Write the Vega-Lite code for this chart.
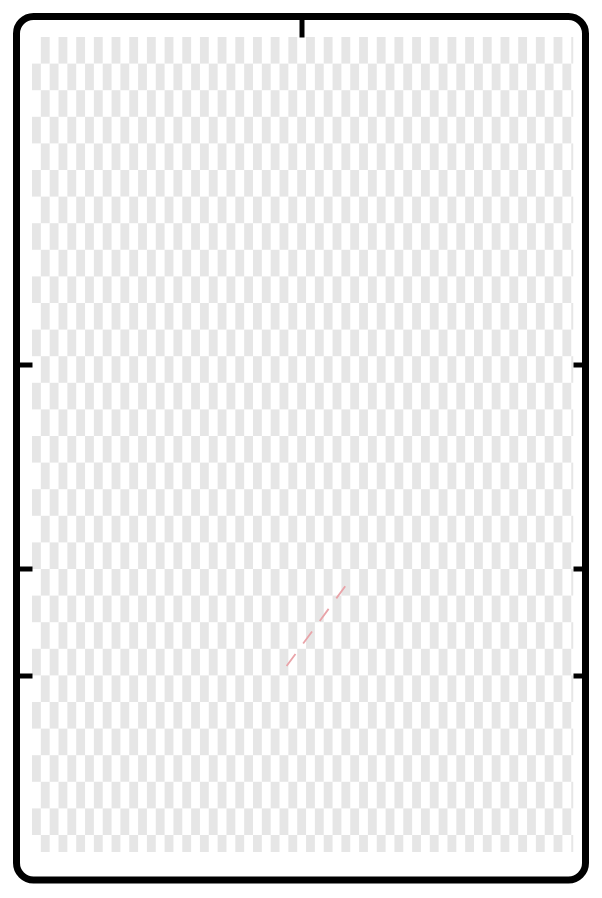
{
"$schema": "https://vega.github.io/schema/vega-lite/v6.json",
"width": 569,
"height": 863.5,
"autosize": {"type": "none"},
"padding": {"left": 16.5, "top": 16.5, "right": 16.5, "bottom": 18},
"background": "white",
"config": {"view": {"stroke": "#000000", "strokeWidth": 7, "cornerRadius": 17, "fill": "white"}},
"datasets": {
"cells": [
{"r":0,"c":1},{"r":0,"c":3},{"r":0,"c":5},{"r":0,"c":7},{"r":0,"c":9},{"r":0,"c":11},{"r":0,"c":13},{"r":0,"c":15},{"r":0,"c":17},{"r":0,"c":19},{"r":0,"c":21},{"r":0,"c":23},{"r":0,"c":25},{"r":0,"c":27},{"r":0,"c":29},{"r":0,"c":31},{"r":0,"c":33},{"r":0,"c":35},{"r":0,"c":37},{"r":0,"c":39},{"r":0,"c":41},{"r":0,"c":43},{"r":0,"c":45},{"r":0,"c":47},{"r":0,"c":49},{"r":0,"c":51},{"r":0,"c":53},{"r":0,"c":55},{"r":0,"c":57},{"r":0,"c":59},
{"r":1,"c":0},{"r":1,"c":2},{"r":1,"c":4},{"r":1,"c":6},{"r":1,"c":8},{"r":1,"c":10},{"r":1,"c":12},{"r":1,"c":14},{"r":1,"c":16},{"r":1,"c":18},{"r":1,"c":20},{"r":1,"c":22},{"r":1,"c":24},{"r":1,"c":26},{"r":1,"c":28},{"r":1,"c":30},{"r":1,"c":32},{"r":1,"c":34},{"r":1,"c":36},{"r":1,"c":38},{"r":1,"c":40},{"r":1,"c":42},{"r":1,"c":44},{"r":1,"c":46},{"r":1,"c":48},{"r":1,"c":50},{"r":1,"c":52},{"r":1,"c":54},{"r":1,"c":56},{"r":1,"c":58},{"r":1,"c":60},
{"r":2,"c":1},{"r":2,"c":3},{"r":2,"c":5},{"r":2,"c":7},{"r":2,"c":9},{"r":2,"c":11},{"r":2,"c":13},{"r":2,"c":15},{"r":2,"c":17},{"r":2,"c":19},{"r":2,"c":21},{"r":2,"c":23},{"r":2,"c":25},{"r":2,"c":27},{"r":2,"c":29},{"r":2,"c":31},{"r":2,"c":33},{"r":2,"c":35},{"r":2,"c":37},{"r":2,"c":39},{"r":2,"c":41},{"r":2,"c":43},{"r":2,"c":45},{"r":2,"c":47},{"r":2,"c":49},{"r":2,"c":51},{"r":2,"c":53},{"r":2,"c":55},{"r":2,"c":57},{"r":2,"c":59},
{"r":3,"c":0},{"r":3,"c":2},{"r":3,"c":4},{"r":3,"c":6},{"r":3,"c":8},{"r":3,"c":10},{"r":3,"c":12},{"r":3,"c":14},{"r":3,"c":16},{"r":3,"c":18},{"r":3,"c":20},{"r":3,"c":22},{"r":3,"c":24},{"r":3,"c":26},{"r":3,"c":28},{"r":3,"c":30},{"r":3,"c":32},{"r":3,"c":34},{"r":3,"c":36},{"r":3,"c":38},{"r":3,"c":40},{"r":3,"c":42},{"r":3,"c":44},{"r":3,"c":46},{"r":3,"c":48},{"r":3,"c":50},{"r":3,"c":52},{"r":3,"c":54},{"r":3,"c":56},{"r":3,"c":58},{"r":3,"c":60},
{"r":4,"c":1},{"r":4,"c":3},{"r":4,"c":5},{"r":4,"c":7},{"r":4,"c":9},{"r":4,"c":11},{"r":4,"c":13},{"r":4,"c":15},{"r":4,"c":17},{"r":4,"c":19},{"r":4,"c":21},{"r":4,"c":23},{"r":4,"c":25},{"r":4,"c":27},{"r":4,"c":29},{"r":4,"c":31},{"r":4,"c":33},{"r":4,"c":35},{"r":4,"c":37},{"r":4,"c":39},{"r":4,"c":41},{"r":4,"c":43},{"r":4,"c":45},{"r":4,"c":47},{"r":4,"c":49},{"r":4,"c":51},{"r":4,"c":53},{"r":4,"c":55},{"r":4,"c":57},{"r":4,"c":59},
{"r":5,"c":0},{"r":5,"c":2},{"r":5,"c":4},{"r":5,"c":6},{"r":5,"c":8},{"r":5,"c":10},{"r":5,"c":12},{"r":5,"c":14},{"r":5,"c":16},{"r":5,"c":18},{"r":5,"c":20},{"r":5,"c":22},{"r":5,"c":24},{"r":5,"c":26},{"r":5,"c":28},{"r":5,"c":30},{"r":5,"c":32},{"r":5,"c":34},{"r":5,"c":36},{"r":5,"c":38},{"r":5,"c":40},{"r":5,"c":42},{"r":5,"c":44},{"r":5,"c":46},{"r":5,"c":48},{"r":5,"c":50},{"r":5,"c":52},{"r":5,"c":54},{"r":5,"c":56},{"r":5,"c":58},{"r":5,"c":60},
{"r":6,"c":1},{"r":6,"c":3},{"r":6,"c":5},{"r":6,"c":7},{"r":6,"c":9},{"r":6,"c":11},{"r":6,"c":13},{"r":6,"c":15},{"r":6,"c":17},{"r":6,"c":19},{"r":6,"c":21},{"r":6,"c":23},{"r":6,"c":25},{"r":6,"c":27},{"r":6,"c":29},{"r":6,"c":31},{"r":6,"c":33},{"r":6,"c":35},{"r":6,"c":37},{"r":6,"c":39},{"r":6,"c":41},{"r":6,"c":43},{"r":6,"c":45},{"r":6,"c":47},{"r":6,"c":49},{"r":6,"c":51},{"r":6,"c":53},{"r":6,"c":55},{"r":6,"c":57},{"r":6,"c":59},
{"r":7,"c":0},{"r":7,"c":2},{"r":7,"c":4},{"r":7,"c":6},{"r":7,"c":8},{"r":7,"c":10},{"r":7,"c":12},{"r":7,"c":14},{"r":7,"c":16},{"r":7,"c":18},{"r":7,"c":20},{"r":7,"c":22},{"r":7,"c":24},{"r":7,"c":26},{"r":7,"c":28},{"r":7,"c":30},{"r":7,"c":32},{"r":7,"c":34},{"r":7,"c":36},{"r":7,"c":38},{"r":7,"c":40},{"r":7,"c":42},{"r":7,"c":44},{"r":7,"c":46},{"r":7,"c":48},{"r":7,"c":50},{"r":7,"c":52},{"r":7,"c":54},{"r":7,"c":56},{"r":7,"c":58},{"r":7,"c":60},
{"r":8,"c":1},{"r":8,"c":3},{"r":8,"c":5},{"r":8,"c":7},{"r":8,"c":9},{"r":8,"c":11},{"r":8,"c":13},{"r":8,"c":15},{"r":8,"c":17},{"r":8,"c":19},{"r":8,"c":21},{"r":8,"c":23},{"r":8,"c":25},{"r":8,"c":27},{"r":8,"c":29},{"r":8,"c":31},{"r":8,"c":33},{"r":8,"c":35},{"r":8,"c":37},{"r":8,"c":39},{"r":8,"c":41},{"r":8,"c":43},{"r":8,"c":45},{"r":8,"c":47},{"r":8,"c":49},{"r":8,"c":51},{"r":8,"c":53},{"r":8,"c":55},{"r":8,"c":57},{"r":8,"c":59},
{"r":9,"c":0},{"r":9,"c":2},{"r":9,"c":4},{"r":9,"c":6},{"r":9,"c":8},{"r":9,"c":10},{"r":9,"c":12},{"r":9,"c":14},{"r":9,"c":16},{"r":9,"c":18},{"r":9,"c":20},{"r":9,"c":22},{"r":9,"c":24},{"r":9,"c":26},{"r":9,"c":28},{"r":9,"c":30},{"r":9,"c":32},{"r":9,"c":34},{"r":9,"c":36},{"r":9,"c":38},{"r":9,"c":40},{"r":9,"c":42},{"r":9,"c":44},{"r":9,"c":46},{"r":9,"c":48},{"r":9,"c":50},{"r":9,"c":52},{"r":9,"c":54},{"r":9,"c":56},{"r":9,"c":58},{"r":9,"c":60},
{"r":10,"c":1},{"r":10,"c":3},{"r":10,"c":5},{"r":10,"c":7},{"r":10,"c":9},{"r":10,"c":11},{"r":10,"c":13},{"r":10,"c":15},{"r":10,"c":17},{"r":10,"c":19},{"r":10,"c":21},{"r":10,"c":23},{"r":10,"c":25},{"r":10,"c":27},{"r":10,"c":29},{"r":10,"c":31},{"r":10,"c":33},{"r":10,"c":35},{"r":10,"c":37},{"r":10,"c":39},{"r":10,"c":41},{"r":10,"c":43},{"r":10,"c":45},{"r":10,"c":47},{"r":10,"c":49},{"r":10,"c":51},{"r":10,"c":53},{"r":10,"c":55},{"r":10,"c":57},{"r":10,"c":59},
{"r":11,"c":0},{"r":11,"c":2},{"r":11,"c":4},{"r":11,"c":6},{"r":11,"c":8},{"r":11,"c":10},{"r":11,"c":12},{"r":11,"c":14},{"r":11,"c":16},{"r":11,"c":18},{"r":11,"c":20},{"r":11,"c":22},{"r":11,"c":24},{"r":11,"c":26},{"r":11,"c":28},{"r":11,"c":30},{"r":11,"c":32},{"r":11,"c":34},{"r":11,"c":36},{"r":11,"c":38},{"r":11,"c":40},{"r":11,"c":42},{"r":11,"c":44},{"r":11,"c":46},{"r":11,"c":48},{"r":11,"c":50},{"r":11,"c":52},{"r":11,"c":54},{"r":11,"c":56},{"r":11,"c":58},{"r":11,"c":60},
{"r":12,"c":1},{"r":12,"c":3},{"r":12,"c":5},{"r":12,"c":7},{"r":12,"c":9},{"r":12,"c":11},{"r":12,"c":13},{"r":12,"c":15},{"r":12,"c":17},{"r":12,"c":19},{"r":12,"c":21},{"r":12,"c":23},{"r":12,"c":25},{"r":12,"c":27},{"r":12,"c":29},{"r":12,"c":31},{"r":12,"c":33},{"r":12,"c":35},{"r":12,"c":37},{"r":12,"c":39},{"r":12,"c":41},{"r":12,"c":43},{"r":12,"c":45},{"r":12,"c":47},{"r":12,"c":49},{"r":12,"c":51},{"r":12,"c":53},{"r":12,"c":55},{"r":12,"c":57},{"r":12,"c":59},
{"r":13,"c":0},{"r":13,"c":2},{"r":13,"c":4},{"r":13,"c":6},{"r":13,"c":8},{"r":13,"c":10},{"r":13,"c":12},{"r":13,"c":14},{"r":13,"c":16},{"r":13,"c":18},{"r":13,"c":20},{"r":13,"c":22},{"r":13,"c":24},{"r":13,"c":26},{"r":13,"c":28},{"r":13,"c":30},{"r":13,"c":32},{"r":13,"c":34},{"r":13,"c":36},{"r":13,"c":38},{"r":13,"c":40},{"r":13,"c":42},{"r":13,"c":44},{"r":13,"c":46},{"r":13,"c":48},{"r":13,"c":50},{"r":13,"c":52},{"r":13,"c":54},{"r":13,"c":56},{"r":13,"c":58},{"r":13,"c":60},
{"r":14,"c":1},{"r":14,"c":3},{"r":14,"c":5},{"r":14,"c":7},{"r":14,"c":9},{"r":14,"c":11},{"r":14,"c":13},{"r":14,"c":15},{"r":14,"c":17},{"r":14,"c":19},{"r":14,"c":21},{"r":14,"c":23},{"r":14,"c":25},{"r":14,"c":27},{"r":14,"c":29},{"r":14,"c":31},{"r":14,"c":33},{"r":14,"c":35},{"r":14,"c":37},{"r":14,"c":39},{"r":14,"c":41},{"r":14,"c":43},{"r":14,"c":45},{"r":14,"c":47},{"r":14,"c":49},{"r":14,"c":51},{"r":14,"c":53},{"r":14,"c":55},{"r":14,"c":57},{"r":14,"c":59},
{"r":15,"c":0},{"r":15,"c":2},{"r":15,"c":4},{"r":15,"c":6},{"r":15,"c":8},{"r":15,"c":10},{"r":15,"c":12},{"r":15,"c":14},{"r":15,"c":16},{"r":15,"c":18},{"r":15,"c":20},{"r":15,"c":22},{"r":15,"c":24},{"r":15,"c":26},{"r":15,"c":28},{"r":15,"c":30},{"r":15,"c":32},{"r":15,"c":34},{"r":15,"c":36},{"r":15,"c":38},{"r":15,"c":40},{"r":15,"c":42},{"r":15,"c":44},{"r":15,"c":46},{"r":15,"c":48},{"r":15,"c":50},{"r":15,"c":52},{"r":15,"c":54},{"r":15,"c":56},{"r":15,"c":58},{"r":15,"c":60},
{"r":16,"c":1},{"r":16,"c":3},{"r":16,"c":5},{"r":16,"c":7},{"r":16,"c":9},{"r":16,"c":11},{"r":16,"c":13},{"r":16,"c":15},{"r":16,"c":17},{"r":16,"c":19},{"r":16,"c":21},{"r":16,"c":23},{"r":16,"c":25},{"r":16,"c":27},{"r":16,"c":29},{"r":16,"c":31},{"r":16,"c":33},{"r":16,"c":35},{"r":16,"c":37},{"r":16,"c":39},{"r":16,"c":41},{"r":16,"c":43},{"r":16,"c":45},{"r":16,"c":47},{"r":16,"c":49},{"r":16,"c":51},{"r":16,"c":53},{"r":16,"c":55},{"r":16,"c":57},{"r":16,"c":59},
{"r":17,"c":0},{"r":17,"c":2},{"r":17,"c":4},{"r":17,"c":6},{"r":17,"c":8},{"r":17,"c":10},{"r":17,"c":12},{"r":17,"c":14},{"r":17,"c":16},{"r":17,"c":18},{"r":17,"c":20},{"r":17,"c":22},{"r":17,"c":24},{"r":17,"c":26},{"r":17,"c":28},{"r":17,"c":30},{"r":17,"c":32},{"r":17,"c":34},{"r":17,"c":36},{"r":17,"c":38},{"r":17,"c":40},{"r":17,"c":42},{"r":17,"c":44},{"r":17,"c":46},{"r":17,"c":48},{"r":17,"c":50},{"r":17,"c":52},{"r":17,"c":54},{"r":17,"c":56},{"r":17,"c":58},{"r":17,"c":60},
{"r":18,"c":1},{"r":18,"c":3},{"r":18,"c":5},{"r":18,"c":7},{"r":18,"c":9},{"r":18,"c":11},{"r":18,"c":13},{"r":18,"c":15},{"r":18,"c":17},{"r":18,"c":19},{"r":18,"c":21},{"r":18,"c":23},{"r":18,"c":25},{"r":18,"c":27},{"r":18,"c":29},{"r":18,"c":31},{"r":18,"c":33},{"r":18,"c":35},{"r":18,"c":37},{"r":18,"c":39},{"r":18,"c":41},{"r":18,"c":43},{"r":18,"c":45},{"r":18,"c":47},{"r":18,"c":49},{"r":18,"c":51},{"r":18,"c":53},{"r":18,"c":55},{"r":18,"c":57},{"r":18,"c":59},
{"r":19,"c":0},{"r":19,"c":2},{"r":19,"c":4},{"r":19,"c":6},{"r":19,"c":8},{"r":19,"c":10},{"r":19,"c":12},{"r":19,"c":14},{"r":19,"c":16},{"r":19,"c":18},{"r":19,"c":20},{"r":19,"c":22},{"r":19,"c":24},{"r":19,"c":26},{"r":19,"c":28},{"r":19,"c":30},{"r":19,"c":32},{"r":19,"c":34},{"r":19,"c":36},{"r":19,"c":38},{"r":19,"c":40},{"r":19,"c":42},{"r":19,"c":44},{"r":19,"c":46},{"r":19,"c":48},{"r":19,"c":50},{"r":19,"c":52},{"r":19,"c":54},{"r":19,"c":56},{"r":19,"c":58},{"r":19,"c":60},
{"r":20,"c":1},{"r":20,"c":3},{"r":20,"c":5},{"r":20,"c":7},{"r":20,"c":9},{"r":20,"c":11},{"r":20,"c":13},{"r":20,"c":15},{"r":20,"c":17},{"r":20,"c":19},{"r":20,"c":21},{"r":20,"c":23},{"r":20,"c":25},{"r":20,"c":27},{"r":20,"c":29},{"r":20,"c":31},{"r":20,"c":33},{"r":20,"c":35},{"r":20,"c":37},{"r":20,"c":39},{"r":20,"c":41},{"r":20,"c":43},{"r":20,"c":45},{"r":20,"c":47},{"r":20,"c":49},{"r":20,"c":51},{"r":20,"c":53},{"r":20,"c":55},{"r":20,"c":57},{"r":20,"c":59},
{"r":21,"c":0},{"r":21,"c":2},{"r":21,"c":4},{"r":21,"c":6},{"r":21,"c":8},{"r":21,"c":10},{"r":21,"c":12},{"r":21,"c":14},{"r":21,"c":16},{"r":21,"c":18},{"r":21,"c":20},{"r":21,"c":22},{"r":21,"c":24},{"r":21,"c":26},{"r":21,"c":28},{"r":21,"c":30},{"r":21,"c":32},{"r":21,"c":34},{"r":21,"c":36},{"r":21,"c":38},{"r":21,"c":40},{"r":21,"c":42},{"r":21,"c":44},{"r":21,"c":46},{"r":21,"c":48},{"r":21,"c":50},{"r":21,"c":52},{"r":21,"c":54},{"r":21,"c":56},{"r":21,"c":58},{"r":21,"c":60},
{"r":22,"c":1},{"r":22,"c":3},{"r":22,"c":5},{"r":22,"c":7},{"r":22,"c":9},{"r":22,"c":11},{"r":22,"c":13},{"r":22,"c":15},{"r":22,"c":17},{"r":22,"c":19},{"r":22,"c":21},{"r":22,"c":23},{"r":22,"c":25},{"r":22,"c":27},{"r":22,"c":29},{"r":22,"c":31},{"r":22,"c":33},{"r":22,"c":35},{"r":22,"c":37},{"r":22,"c":39},{"r":22,"c":41},{"r":22,"c":43},{"r":22,"c":45},{"r":22,"c":47},{"r":22,"c":49},{"r":22,"c":51},{"r":22,"c":53},{"r":22,"c":55},{"r":22,"c":57},{"r":22,"c":59},
{"r":23,"c":0},{"r":23,"c":2},{"r":23,"c":4},{"r":23,"c":6},{"r":23,"c":8},{"r":23,"c":10},{"r":23,"c":12},{"r":23,"c":14},{"r":23,"c":16},{"r":23,"c":18},{"r":23,"c":20},{"r":23,"c":22},{"r":23,"c":24},{"r":23,"c":26},{"r":23,"c":28},{"r":23,"c":30},{"r":23,"c":32},{"r":23,"c":34},{"r":23,"c":36},{"r":23,"c":38},{"r":23,"c":40},{"r":23,"c":42},{"r":23,"c":44},{"r":23,"c":46},{"r":23,"c":48},{"r":23,"c":50},{"r":23,"c":52},{"r":23,"c":54},{"r":23,"c":56},{"r":23,"c":58},{"r":23,"c":60},
{"r":24,"c":1},{"r":24,"c":3},{"r":24,"c":5},{"r":24,"c":7},{"r":24,"c":9},{"r":24,"c":11},{"r":24,"c":13},{"r":24,"c":15},{"r":24,"c":17},{"r":24,"c":19},{"r":24,"c":21},{"r":24,"c":23},{"r":24,"c":25},{"r":24,"c":27},{"r":24,"c":29},{"r":24,"c":31},{"r":24,"c":33},{"r":24,"c":35},{"r":24,"c":37},{"r":24,"c":39},{"r":24,"c":41},{"r":24,"c":43},{"r":24,"c":45},{"r":24,"c":47},{"r":24,"c":49},{"r":24,"c":51},{"r":24,"c":53},{"r":24,"c":55},{"r":24,"c":57},{"r":24,"c":59},
{"r":25,"c":0},{"r":25,"c":2},{"r":25,"c":4},{"r":25,"c":6},{"r":25,"c":8},{"r":25,"c":10},{"r":25,"c":12},{"r":25,"c":14},{"r":25,"c":16},{"r":25,"c":18},{"r":25,"c":20},{"r":25,"c":22},{"r":25,"c":24},{"r":25,"c":26},{"r":25,"c":28},{"r":25,"c":30},{"r":25,"c":32},{"r":25,"c":34},{"r":25,"c":36},{"r":25,"c":38},{"r":25,"c":40},{"r":25,"c":42},{"r":25,"c":44},{"r":25,"c":46},{"r":25,"c":48},{"r":25,"c":50},{"r":25,"c":52},{"r":25,"c":54},{"r":25,"c":56},{"r":25,"c":58},{"r":25,"c":60},
{"r":26,"c":1},{"r":26,"c":3},{"r":26,"c":5},{"r":26,"c":7},{"r":26,"c":9},{"r":26,"c":11},{"r":26,"c":13},{"r":26,"c":15},{"r":26,"c":17},{"r":26,"c":19},{"r":26,"c":21},{"r":26,"c":23},{"r":26,"c":25},{"r":26,"c":27},{"r":26,"c":29},{"r":26,"c":31},{"r":26,"c":33},{"r":26,"c":35},{"r":26,"c":37},{"r":26,"c":39},{"r":26,"c":41},{"r":26,"c":43},{"r":26,"c":45},{"r":26,"c":47},{"r":26,"c":49},{"r":26,"c":51},{"r":26,"c":53},{"r":26,"c":55},{"r":26,"c":57},{"r":26,"c":59},
{"r":27,"c":0},{"r":27,"c":2},{"r":27,"c":4},{"r":27,"c":6},{"r":27,"c":8},{"r":27,"c":10},{"r":27,"c":12},{"r":27,"c":14},{"r":27,"c":16},{"r":27,"c":18},{"r":27,"c":20},{"r":27,"c":22},{"r":27,"c":24},{"r":27,"c":26},{"r":27,"c":28},{"r":27,"c":30},{"r":27,"c":32},{"r":27,"c":34},{"r":27,"c":36},{"r":27,"c":38},{"r":27,"c":40},{"r":27,"c":42},{"r":27,"c":44},{"r":27,"c":46},{"r":27,"c":48},{"r":27,"c":50},{"r":27,"c":52},{"r":27,"c":54},{"r":27,"c":56},{"r":27,"c":58},{"r":27,"c":60},
{"r":28,"c":1},{"r":28,"c":3},{"r":28,"c":5},{"r":28,"c":7},{"r":28,"c":9},{"r":28,"c":11},{"r":28,"c":13},{"r":28,"c":15},{"r":28,"c":17},{"r":28,"c":19},{"r":28,"c":21},{"r":28,"c":23},{"r":28,"c":25},{"r":28,"c":27},{"r":28,"c":29},{"r":28,"c":31},{"r":28,"c":33},{"r":28,"c":35},{"r":28,"c":37},{"r":28,"c":39},{"r":28,"c":41},{"r":28,"c":43},{"r":28,"c":45},{"r":28,"c":47},{"r":28,"c":49},{"r":28,"c":51},{"r":28,"c":53},{"r":28,"c":55},{"r":28,"c":57},{"r":28,"c":59},
{"r":29,"c":0},{"r":29,"c":2},{"r":29,"c":4},{"r":29,"c":6},{"r":29,"c":8},{"r":29,"c":10},{"r":29,"c":12},{"r":29,"c":14},{"r":29,"c":16},{"r":29,"c":18},{"r":29,"c":20},{"r":29,"c":22},{"r":29,"c":24},{"r":29,"c":26},{"r":29,"c":28},{"r":29,"c":30},{"r":29,"c":32},{"r":29,"c":34},{"r":29,"c":36},{"r":29,"c":38},{"r":29,"c":40},{"r":29,"c":42},{"r":29,"c":44},{"r":29,"c":46},{"r":29,"c":48},{"r":29,"c":50},{"r":29,"c":52},{"r":29,"c":54},{"r":29,"c":56},{"r":29,"c":58},{"r":29,"c":60}
],
"lastcol": [
{"r":0,"c":61},{"r":2,"c":61},{"r":4,"c":61},{"r":6,"c":61},{"r":8,"c":61},{"r":10,"c":61},{"r":12,"c":61},{"r":14,"c":61},{"r":16,"c":61},{"r":18,"c":61},{"r":20,"c":61},{"r":22,"c":61},{"r":24,"c":61},{"r":26,"c":61},{"r":28,"c":61}
],
"lastrow": [
{"r":30,"c":1},{"r":30,"c":3},{"r":30,"c":5},{"r":30,"c":7},{"r":30,"c":9},{"r":30,"c":11},{"r":30,"c":13},{"r":30,"c":15},{"r":30,"c":17},{"r":30,"c":19},{"r":30,"c":21},{"r":30,"c":23},{"r":30,"c":25},{"r":30,"c":27},{"r":30,"c":29},{"r":30,"c":31},{"r":30,"c":33},{"r":30,"c":35},{"r":30,"c":37},{"r":30,"c":39},{"r":30,"c":41},{"r":30,"c":43},{"r":30,"c":45},{"r":30,"c":47},{"r":30,"c":49},{"r":30,"c":51},{"r":30,"c":53},{"r":30,"c":55},{"r":30,"c":57},{"r":30,"c":59}
],
"corner": [{"r":30,"c":61}],
"line": [{"c":28.8,"r":23.65},{"c":35.63,"r":20.56}]
},
"resolve": {"axis": {"x": "independent", "y": "independent"}},
"layer": [
{
"data": {"name": "cells"},
"mark": {"type": "rect", "fill": "#e6e6e6", "x2Offset": 8.84, "y2Offset": 26.6},
"encoding": {
"x": {"field": "c", "type": "quantitative", "scale": {"domain": [-1.7534, 62.613], "nice": false, "zero": false}, "axis": null},
"x2": {"field": "c"},
"y": {"field": "r", "type": "quantitative", "scale": {"domain": [-0.7707, 31.692], "nice": false, "zero": false, "reverse": true},
"axis": {"orient": "left", "values": [12.3, 20, 24], "labels": false, "domain": false, "grid": false, "title": null, "ticks": true, "tickSize": -15.5, "tickWidth": 5, "tickColor": "#000000", "tickOpacity": 1, "zindex": 1}},
"y2": {"field": "r"}
}
},
{
"data": {"name": "lastcol"},
"mark": {"type": "rect", "fill": "#e6e6e6", "x2Offset": 2, "y2Offset": 26.6},
"encoding": {
"x": {"field": "c", "type": "quantitative", "scale": {"domain": [-1.7534, 62.613], "nice": false, "zero": false}, "axis": null},
"x2": {"field": "c"},
"y": {"field": "r", "type": "quantitative", "scale": {"domain": [-0.7707, 31.692], "nice": false, "zero": false, "reverse": true}, "axis": null},
"y2": {"field": "r"}
}
},
{
"data": {"name": "lastrow"},
"mark": {"type": "rect", "fill": "#e6e6e6", "x2Offset": 8.84, "y2Offset": 17},
"encoding": {
"x": {"field": "c", "type": "quantitative", "scale": {"domain": [-1.7534, 62.613], "nice": false, "zero": false}, "axis": null},
"x2": {"field": "c"},
"y": {"field": "r", "type": "quantitative", "scale": {"domain": [-0.7707, 31.692], "nice": false, "zero": false, "reverse": true}, "axis": null},
"y2": {"field": "r"}
}
},
{
"data": {"name": "corner"},
"mark": {"type": "rect", "fill": "#e6e6e6", "x2Offset": 2, "y2Offset": 17},
"encoding": {
"x": {"field": "c", "type": "quantitative", "scale": {"domain": [-1.7534, 62.613], "nice": false, "zero": false}, "axis": null},
"x2": {"field": "c"},
"y": {"field": "r", "type": "quantitative", "scale": {"domain": [-0.7707, 31.692], "nice": false, "zero": false, "reverse": true}, "axis": null},
"y2": {"field": "r"}
}
},
{
"data": {"name": "line"},
"mark": {"type": "line", "stroke": "#e9a3a8", "strokeWidth": 1.8, "strokeDash": [15, 13]},
"encoding": {
"x": {"field": "c", "type": "quantitative", "scale": {"domain": [-1.7534, 62.613], "nice": false, "zero": false},
"axis": {"orient": "top", "values": [30.49], "labels": false, "domain": false, "grid": false, "title": null, "ticks": true, "tickSize": -20.5, "tickWidth": 5, "tickColor": "#000000", "tickOpacity": 1, "zindex": 1}},
"y": {"field": "r", "type": "quantitative", "scale": {"domain": [-0.7707, 31.692], "nice": false, "zero": false, "reverse": true},
"axis": {"orient": "right", "values": [12.3, 20, 24], "labels": false, "domain": false, "grid": false, "title": null, "ticks": true, "tickSize": -12.5, "tickWidth": 5, "tickColor": "#000000", "tickOpacity": 1, "zindex": 1}}
}
}
]
}
